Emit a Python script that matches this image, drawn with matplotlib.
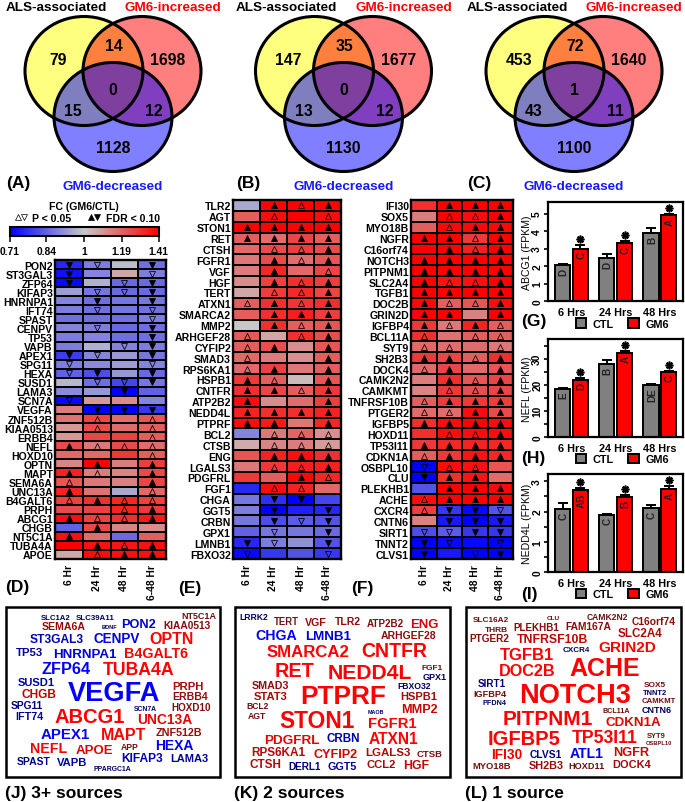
import numpy as np
import matplotlib
matplotlib.use('Agg')
import matplotlib.pyplot as plt
from matplotlib.cm import ScalarMappable
from matplotlib.colors import LinearSegmentedColormap, LogNorm
from matplotlib.font_manager import FontProperties
from matplotlib.patches import Ellipse, Rectangle
from matplotlib.textpath import TextPath

plt.rcParams['font.family'] = ['Liberation Sans', 'DejaVu Sans']
plt.rcParams['font.weight'] = 'bold'

W, H = 685, 803

# venn counts: yellow, yellow&red, red, yellow&blue, all, red&blue, blue
venn_a = [79, 14, 1698, 15, 0, 12, 1128]
venn_b = [147, 35, 1677, 13, 0, 12, 1130]
venn_c = [453, 72, 1640, 43, 1, 11, 1100]

hours = ['6 Hr', '24 Hr', '48 Hr', '6-48 Hr']

# heatmaps: F = FDR < 0.10, O = P < 0.05, . = nothing
genes_d = ['PON2', 'ST3GAL3', 'ZFP64', 'KIFAP3', 'HNRNPA1', 'IFT74', 'SPAST', 'CENPV', 'TP53', 'VAPB', 'APEX1',
           'SPG11', 'HEXA', 'SUSD1', 'LAMA3', 'SCN7A', 'VEGFA', 'ZNF512B', 'KIAA0513', 'ERBB4', 'NEFL', 'HOXD10',
           'OPTN', 'MAPT', 'SEMA6A', 'UNC13A', 'B4GALT6', 'PRPH', 'ABCG1', 'CHGB', 'NT5C1A', 'TUBA4A', 'APOE']
fc_d = [[.76, .88, .98, .86], [.73, .89, 1.06, .88], [.72, .96, .85, .85], [.93, .87, .85, .85],
        [.89, .86, .87, .87], [.88, .86, .87, .86], [.86, .86, .86, .88], [.89, .88, .85, .86],
        [.88, .89, .86, .86], [.88, .96, .89, .88], [.79, .89, .92, .87], [.88, .9, .93, .89],
        [.84, .81, .92, .85], [.97, .86, .8, .87], [.9, .92, .71, .84], [.72, 1.09, 1.11, .89],
        [1.14, .71, .71, .78], [1.16, 1.25, 1.17, 1.22], [1.09, 1.24, 1.17, 1.2], [1.09, 1.25, 1.26, 1.2],
        [1.24, 1.15, 1.24, 1.17], [1.18, 1.18, 1.28, 1.2], [1.12, 1.41, 1.14, 1.27], [1.33, 1.14, 1.12, 1.24],
        [1.22, 1.15, 1.13, 1.25], [1.33, 1.16, .95, 1.18], [1.26, 1.3, 1.32, 1.26], [1.24, 1.26, 1.33, 1.28],
        [1.38, 1.26, 1.3, 1.35], [.84, 1.25, 1.12, 1.11], [1.37, 1.17, .85, 1.2], [1.41, 1.37, 1.36, 1.37],
        [1.06, 1.38, 1.37, 1.37]]
sig_d = ['FO.F', 'F..O', 'F.OF', '.OOF', '.F.F', '.O.O', '...O', '.O.F', '...F', '..OF', 'FO.F', 'O..O', 'OF.F',
         '.OOF', '..F.', 'O...', '.FFF', '.O.O', '.O.O', '...O', 'FOOO', '...O', '.F.F', 'FO.F', 'O..F', 'F..O',
         'OFOO', '..OF', 'FOOF', '.F..', 'F...', '.FOF', '.OFF']

genes_e = ['TLR2', 'AGT', 'STON1', 'RET', 'CTSH', 'FGFR1', 'VGF', 'HGF', 'TERT', 'ATXN1', 'SMARCA2', 'MMP2',
           'ARHGEF28', 'CYFIP2', 'SMAD3', 'RPS6KA1', 'HSPB1', 'CNTFR', 'ATP2B2', 'NEDD4L', 'PTPRF', 'BCL2', 'CTSB',
           'ENG', 'LGALS3', 'PDGFRL', 'FGF1', 'CHGA', 'GGT5', 'CRBN', 'GPX1', 'LMNB1', 'FBXO32']
fc_e = [[.95, 1.4, 1.4, 1.4], [1.2, 1.38, 1.41, 1.38], [1.4, 1.4, 1.4, 1.4], [1.2, 1.17, 1.25, 1.2],
        [1.18, 1.24, 1.27, 1.24], [1.15, 1.24, 1.17, 1.22], [1.14, 1.32, 1.18, 1.25], [1.11, 1.26, 1.3, 1.27],
        [1.06, 1.27, 1.31, 1.25], [1.2, 1.3, 1.29, 1.3], [1.2, 1.3, 1.34, 1.27], [1.0, 1.3, 1.2, 1.22],
        [1.21, 1.06, 1.3, 1.23], [1.2, 1.23, 1.11, 1.22], [1.18, 1.14, 1.1, 1.2], [1.18, 1.26, 1.15, 1.2],
        [1.28, 1.2, 1.02, 1.22], [1.3, 1.25, 1.2, 1.28], [1.38, 1.11, 1.17, 1.27], [1.33, 1.3, 1.3, 1.33],
        [1.38, 1.35, 1.15, 1.32], [.89, 1.15, 1.19, 1.1], [1.05, 1.12, 1.14, 1.08], [1.22, 1.33, 1.37, 1.3],
        [1.15, 1.28, 1.34, 1.33], [1.28, 1.2, 1.39, 1.32], [.76, 1.38, 1.33, 1.18], [.87, .77, .71, .8],
        [.88, .71, .75, .76], [.87, .81, .83, .82], [.84, .87, .87, .85], [.76, .88, .91, .82], [.72, .78, .82, .78]]
sig_e = ['.FOF', '.O.O', 'FFFF', 'FFFF', '.OOF', '.FOF', '.F.O', '.FOF', '.OOF', 'OFOF', '.FFF', '.FOF', 'O.OF',
         'OF.F', 'O..F', 'OF.F', 'FO.F', 'FFOF', 'F..F', 'FFFF', 'FF.F', '.OOO', '.OOO', '.FFF', '.OOF', '..FO',
         '.OO.', '.FF.', '.F.F', '.FOF', '.O.F', 'FO.F', 'O..O']

genes_f = ['IFI30', 'SOX5', 'MYO18B', 'NGFR', 'C16orf74', 'NOTCH3', 'PITPNM1', 'SLC2A4', 'TGFB1', 'DOC2B', 'GRIN2D',
           'IGFBP4', 'BCL11A', 'SYT9', 'SH2B3', 'DOCK4', 'CAMK2N2', 'CAMKMT', 'TNFRSF10B', 'PTGER2', 'IGFBP5',
           'HOXD11', 'TP53I11', 'CDKN1A', 'OSBPL10', 'CLU', 'PLEKHB1', 'ACHE', 'CXCR4', 'CNTN6', 'SIRT1', 'TNNT2',
           'CLVS1']
fc_f = [[1.3, 1.41, 1.41, 1.41], [1.14, 1.41, 1.38, 1.41], [1.2, 1.39, 1.39, 1.39], [1.41, 1.41, 1.28, 1.41],
        [1.41, 1.41, 1.34, 1.41], [1.41, 1.41, 1.41, 1.41], [1.41, 1.41, 1.41, 1.41], [1.41, 1.36, 1.37, 1.41],
        [1.41, 1.41, 1.41, 1.41], [1.39, 1.2, 1.22, 1.38], [1.4, 1.41, 1.13, 1.41], [1.28, 1.15, 1.33, 1.2],
        [1.3, 1.16, 1.2, 1.2], [1.18, 1.17, 1.17, 1.15], [1.28, 1.25, 1.2, 1.3], [1.18, 1.25, 1.18, 1.22],
        [1.14, 1.3, 1.22, 1.25], [1.12, 1.28, 1.23, 1.25], [1.2, 1.28, 1.28, 1.27], [1.17, 1.17, 1.38, 1.24],
        [1.3, 1.38, 1.4, 1.38], [1.3, 1.38, 1.38, 1.38], [1.28, 1.32, 1.33, 1.32], [1.2, 1.28, 1.36, 1.32],
        [.71, 1.38, 1.37, 1.22], [.71, 1.3, 1.36, 1.17], [.82, 1.41, 1.41, 1.39], [1.38, 1.41, 1.41, 1.41],
        [1.27, .78, .72, .82], [1.13, .74, .71, .74], [.81, .83, .78, .78], [.71, .72, .72, .71], [.71, .74, .71, .71]]
sig_f = ['.FFF', '.OOF', '.OFF', 'FFOF', '.FOF', 'FFFF', 'FFFF', 'FOOF', 'FFFF', 'FOOF', 'FF.F', 'FOFO', 'O.OO',
         'OO.O', 'FFOF', 'OF.F', '.FOF', '.OOF', 'OFFF', 'OOFF', 'FFFF', '.OOF', 'FFFF', 'OFFF', 'OOO.', 'FFF.',
         '.FFF', 'OFFF', 'OFFO', '.FFF', 'OOFF', 'FO.O', 'F.OF']

# bars
bar_groups = ['6 Hrs', '24 Hrs', '48 Hrs']
abcg1_ctl = [2.05, 2.45, 3.9]
abcg1_ctl_err = [.05, .25, .25]
abcg1_gm6 = [3.0, 3.3, 4.9]
abcg1_gm6_err = [.2, .15, .05]
abcg1_letters = ['D', 'C', 'D', 'C', 'B', 'A']
nefl_ctl = [18.3, 28, 20]
nefl_ctl_err = [.3, 1.5, .4]
nefl_gm6 = [22, 32.3, 25]
nefl_gm6_err = [.4, .7, .4]
nefl_letters = ['E', 'D', 'B', 'A', 'DE', 'C']
nedd4l_ctl = [2.07, 1.9, 2.1]
nedd4l_ctl_err = [.2, .03, .1]
nedd4l_gm6 = [2.72, 2.48, 2.75]
nedd4l_gm6_err = [.05, .05, .1]
nedd4l_letters = ['C', 'AB', 'C', 'B', 'C', 'A']

# word clouds
words_j = ['SLC1A2', 'SLC39A11', 'BDNF', 'PON2', 'NT5C1A', 'SEMA6A', 'KIAA0513', 'ST3GAL3', 'CENPV', 'OPTN', 'TP53',
           'HNRNPA1', 'B4GALT6', 'ZFP64', 'TUBA4A', 'SUSD1', 'VEGFA', 'PRPH', 'CHGB', 'ERBB4', 'SPG11', 'SCN7A',
           'HOXD10', 'IFT74', 'ABCG1', 'UNC13A', 'APEX1', 'MAPT', 'ZNF512B', 'NEFL', 'APOE', 'APP', 'HEXA', 'KIFAP3',
           'LAMA3', 'SPAST', 'VAPB', 'PPARGC1A']
words_k = ['LRRK2', 'TERT', 'VGF', 'TLR2', 'ATP2B2', 'ENG', 'CHGA', 'LMNB1', 'ARHGEF28', 'SMARCA2', 'CNTFR', 'RET',
           'NEDD4L', 'FGF1', 'GPX1', 'SMAD3', 'FBXO32', 'STAT3', 'PTPRF', 'HSPB1', 'BCL2', 'MMP2', 'AGT', 'MAOB',
           'STON1', 'FGFR1', 'PDGFRL', 'CRBN', 'ATXN1', 'RPS6KA1', 'CYFIP2', 'LGALS3', 'CTSB', 'CTSH', 'DERL1',
           'GGT5', 'CCL2', 'HGF']
words_l = ['SLC16A2', 'CLU', 'CAMK2N2', 'C16orf74', 'THRB', 'PLEKHB1', 'FAM167A', 'SLC2A4', 'PTGER2', 'TNFRSF10B',
           'GRIN2D', 'CXCR4', 'TGFB1', 'ACHE', 'DOC2B', 'SIRT1', 'SOX5', 'IGFBP4', 'TNNT2', 'NOTCH3', 'CAMKMT',
           'PFDN4', 'BCL11A', 'CNTN6', 'PITPNM1', 'CDKN1A', 'IGFBP5', 'TP53I11', 'SYT9', 'OSBPL10', 'IFI30', 'CLVS1',
           'ATL1', 'NGFR', 'MYO18B', 'SH2B3', 'HOXD11', 'DOCK4']
words_down = ['SLC1A2', 'SLC39A11', 'BDNF', 'PON2', 'ST3GAL3', 'CENPV', 'TP53', 'HNRNPA1', 'ZFP64', 'SUSD1', 'VEGFA',
              'SPG11', 'SCN7A', 'IFT74', 'APEX1', 'HEXA', 'KIFAP3', 'LAMA3', 'SPAST', 'VAPB', 'PPARGC1A', 'LRRK2',
              'CHGA', 'LMNB1', 'GPX1', 'FBXO32', 'MAOB', 'CRBN', 'DERL1', 'GGT5', 'CXCR4', 'SIRT1', 'TNNT2', 'PFDN4',
              'CNTN6', 'CLVS1', 'ATL1']

# word placement, in px inside each crop: centre x, centre y, text width (all x3)
place_j = [(167, 66, 88), (287, 66, 115), (328, 96, 45), (417, 85, 100), (597, 62, 102), (190, 95, 130), (560, 90, 138),
           (170, 132, 160), (350, 130, 138), (516, 130, 128), (88, 171, 80), (254, 174, 187), (469, 174, 188),
           (197, 220, 145), (416, 222, 213), (108, 262, 110), (342, 290, 275), (564, 274, 90), (116, 296, 102),
           (571, 305, 105), (80, 332, 96), (436, 341, 68), (574, 338, 115), (87, 364, 82), (268, 361, 208),
           (495, 373, 162), (196, 415, 145), (372, 418, 132), (537, 411, 138), (146, 460, 107), (283, 463, 110),
           (388, 457, 52), (523, 450, 112), (425, 489, 122), (567, 489, 112), (102, 498, 100), (217, 501, 90),
           (338, 521, 112)]
place_k = [(86, 65, 84), (184, 79, 74), (273, 81, 64), (368, 79, 76), (480, 85, 110), (598, 85, 80), (153, 121, 122),
           (308, 121, 135), (551, 120, 165), (250, 169, 245), (509, 166, 195), (208, 224, 115), (433, 228, 248),
           (620, 216, 62), (628, 244, 70), (137, 269, 110), (567, 272, 98), (136, 303, 100), (356, 298, 250),
           (581, 303, 108), (98, 333, 64), (583, 341, 105), (97, 362, 54), (453, 351, 48), (275, 375, 222),
           (503, 382, 142), (200, 431, 162), (356, 428, 97), (506, 431, 147), (160, 469, 160), (332, 475, 130),
           (488, 472, 132), (613, 476, 75), (122, 506, 92), (238, 514, 96), (352, 514, 86), (469, 507, 85),
           (574, 510, 74)]
place_l = [(108, 73, 107), (294, 69, 38), (456, 67, 122), (597, 79, 130), (125, 101, 68), (244, 97, 135),
           (400, 95, 135), (555, 114, 132), (104, 129, 117), (294, 131, 210), (517, 154, 170), (365, 163, 80),
           (217, 177, 162), (449, 217, 208), (217, 226, 165), (110, 265, 82), (598, 266, 65), (104, 297, 97),
           (601, 291, 72), (360, 295, 328), (611, 316, 102), (118, 321, 70), (485, 347, 80), (604, 344, 88),
           (279, 366, 265), (535, 379, 165), (207, 428, 212), (449, 425, 195), (605, 421, 55), (611, 443, 78),
           (154, 478, 90), (273, 479, 95), (396, 474, 100), (528, 470, 105), (111, 512, 113), (274, 511, 103),
           (396, 512, 105), (530, 508, 113)]

fig = plt.figure(figsize=(W / 100, H / 100), dpi=100)

# one axes over the whole figure, in pixels, for the venns, words and loose labels
ov = fig.add_axes([0, 0, 1, 1], zorder=5)
ov.set_xlim(0, W)
ov.set_ylim(H, 0)
ov.axis('off')
ov.patch.set_alpha(0)


def label(x, y, s, size, color='black', ha='center'):
    # y is the middle of the capitals
    ov.text(x, y + 0.36 * size * 100 / 72, s, fontsize=size, color=color, ha=ha, va='baseline')


def px_axes(left, top, right, bottom):
    return fig.add_axes([left / W, 1 - bottom / H, (right - left) / W, (bottom - top) / H])


# venns
def venn(dx, counts, tag):
    centres = [(84, 72, '#ffff00'), (142, 72, '#ff0000'), (113, 118, '#0000ff')]
    for cx, cy, col in centres:
        ov.add_patch(Ellipse((cx + dx, cy), 118, 109, fc=col, alpha=.5, ec='none'))
    for cx, cy, col in centres:
        ov.add_patch(Ellipse((cx + dx, cy), 118, 109, fc='none', ec='black', lw=2.2))
    spots = [(58, 59), (114, 45), (168, 59), (73, 110), (113, 89), (154, 110), (113, 147)]
    for (x, y), n in zip(spots, counts):
        label(x + dx, y, str(n), 11.3)
    label(56 + dx, 6, 'ALS-associated', 9.7)
    label(173 + dx, 6, 'GM6-increased', 9.7, '#ff0000')
    label(113 + dx, 185, 'GM6-decreased', 9.7, '#1a1aff')
    label(6 + dx, 182, tag, 12.5, ha='left')


venn(0, venn_a, '(A)')
venn(230.5, venn_b, '(B)')
venn(461, venn_c, '(C)')

# colour scale
cmap = LinearSegmentedColormap.from_list('fc', ['#0000ff', '#c8c8c8', '#ff0000'])
norm = LogNorm(vmin=.71, vmax=1.41)

cax = px_axes(10, 228, 158.5, 237)
cb = fig.colorbar(ScalarMappable(norm=norm, cmap=cmap), cax=cax, orientation='horizontal')
cb.set_ticks([.71, .84, 1, 1.19, 1.41])
cb.set_ticklabels(['0.71', '0.84', '1', '1.19', '1.41'])
cb.ax.minorticks_off()
cb.ax.tick_params(labelsize=7.4, length=4, width=1.1, pad=3)
cb.outline.set_linewidth(1.5)

label(84, 206, 'FC (GM6/CTL)', 7.6)
label(32, 218.5, 'P < 0.05', 7.6, ha='left')
label(106, 218.5, 'FDR < 0.10', 7.6, ha='left')
for x, m, fill in [(18, '^', 'none'), (24.5, 'v', 'none'), (91.5, '^', 'black'), (97.5, 'v', 'black')]:
    ov.plot([x], [218], marker=m, ms=4.6, mfc=fill, mec='black', mew=.5, ls='none')


# heatmaps
def heat(box, genes, fc, sig):
    ax = px_axes(*box)
    vals = np.array(fc)
    ax.pcolormesh(vals, cmap=cmap, norm=norm, edgecolors='black', linewidth=1.2)
    ax.invert_yaxis()
    ax.set_xticks(np.arange(4) + .5)
    ax.set_xticklabels(hours, rotation=90, fontsize=7.4)
    ax.set_yticks(np.arange(len(genes)) + .5)
    ax.set_yticklabels(genes, fontsize=7.6)
    ax.tick_params(length=0, pad=1.5)
    ax.tick_params(axis='x', pad=3.5)
    for s in ax.spines.values():
        s.set_linewidth(1.7)
    for i, row in enumerate(sig):
        for j, code in enumerate(row):
            if code == '.':
                continue
            m = '^' if vals[i, j] > 1 else 'v'
            fill = 'black' if code == 'F' else 'none'
            ax.plot([j + .5], [i + .5], marker=m, ms=5, mfc=fill, mec='black', mew=.55, ls='none')


heat((55, 261, 166, 560), genes_d, fc_d, sig_d)
heat((233, 201, 341, 560), genes_e, fc_e, sig_e)
heat((411, 201, 513, 560), genes_f, fc_f, sig_f)

label(5, 586, '(D)', 12.5, ha='left')
label(178, 587, '(E)', 12.5, ha='left')
label(351, 587, '(F)', 12.5, ha='left')


# bars
def bars(box, ctl, ctl_err, gm6, gm6_err, letters, ylab, ylim, major, minor, tag, tag_y):
    ax = px_axes(*box)
    x = np.arange(3)
    w = .34
    off = .203
    px = ylim / (box[3] - box[1])
    errs = dict(ecolor='black', elinewidth=1.4, capsize=3.4, capthick=1.4)
    grey = ax.bar(x - off, ctl, w, color='#808080', edgecolor='black', lw=1.4, label='CTL',
                  yerr=[[0] * 3, ctl_err], error_kw=errs)
    red = ax.bar(x + off, gm6, w, color='#ff0000', edgecolor='black', lw=1.4, label='GM6',
                 yerr=[[0] * 3, gm6_err], error_kw=errs)
    ax.plot(x + off, np.array(gm6) + np.array(gm6_err) + 6 * px, ls='none', marker=(8, 2, 0), ms=5.6, mew=1.2,
            mec='black', clip_on=False)
    for i in range(3):
        ax.text(i - off + .025, ctl[i] - 2.5 * px, letters[2 * i], rotation=90, ha='center', va='top', fontsize=7.2,
                color='#222222')
        ax.text(i + off + .025, gm6[i] - 2.5 * px, letters[2 * i + 1], rotation=90, ha='center', va='top', fontsize=7.2,
                color='#222222')
    ax.set_xlim(-.531, 2.52)
    ax.set_ylim(0, ylim)
    ax.set_xticks(x)
    ax.set_xticklabels(bar_groups, fontsize=7.8)
    ax.tick_params(axis='x', length=0, pad=4)
    ax.set_yticks(major)
    ax.set_yticks(minor, minor=True)
    ax.tick_params(axis='y', which='both', length=3.2, width=1.2, pad=1, labelsize=7.4)
    for t in ax.get_yticklabels():
        t.set_rotation(90)
        t.set_va('center')
    ax.set_ylabel(ylab, fontsize=7.6, labelpad=0)
    for s in ax.spines.values():
        s.set_linewidth(1.6)
    ax.legend(handles=[grey, red], ncol=2, frameon=False, fontsize=7.8, handlelength=1.0, handleheight=1.0,
              handletextpad=.6, columnspacing=1.3, borderpad=0, loc='center', bbox_to_anchor=(.55, -.225))
    label(box[0] - 27, tag_y, tag, 12.5, ha='left')


bars((548, 203, 683, 302), abcg1_ctl, abcg1_ctl_err, abcg1_gm6, abcg1_gm6_err, abcg1_letters, 'ABCG1 (FPKM)',
     5.66, [0, 1, 2, 3, 4, 5], [], '(G)', 320)
bars((548, 340, 683, 438), nefl_ctl, nefl_ctl_err, nefl_gm6, nefl_gm6_err, nefl_letters, 'NEFL (FPKM)',
     37.5, [0, 10, 20, 30], [5, 15, 25, 35], '(H)', 457)
bars((548, 475, 683, 573), nedd4l_ctl, nedd4l_ctl_err, nedd4l_gm6, nedd4l_gm6_err, nedd4l_letters, 'NEDD4L (FPKM)',
     3.24, [0, 1, 2, 3], [.5, 1.5, 2.5], '(I)', 593)

# word clouds
prop = FontProperties(family='Liberation Sans', weight='bold')


def cloud(left, box_l, box_r, words, place, title, title_x):
    ov.add_patch(Rectangle((box_l, 608), box_r - box_l, 170, fc='white', ec='black', lw=1.8))
    for word, (zx, zy, zw) in zip(words, place):
        one = TextPath((0, 0), word, size=1, prop=prop).get_extents().width
        size = zw / 3 / one * 72 / 100
        t = float(np.clip((size - 6.5) / 4, 0, 1))
        if word in words_down:
            col = (0, 0, .38 + .62 * t)
        else:
            col = (.42 + .58 * t, .06 * (1 - t), .06 * (1 - t))
        label(left + zx / 3, 595 + zy / 3, word, size, col)
    label(title_x, 792, title, 12.5, ha='left')


cloud(0, 6, 220.5, words_j, place_j, '(J) 3+ sources', 5)
cloud(225, 235, 450, words_k, place_k, '(K) 2 sources', 234)
cloud(455, 466, 681, words_l, place_l, '(L) 1 source', 465)

fig.savefig('out.png', dpi=100)
